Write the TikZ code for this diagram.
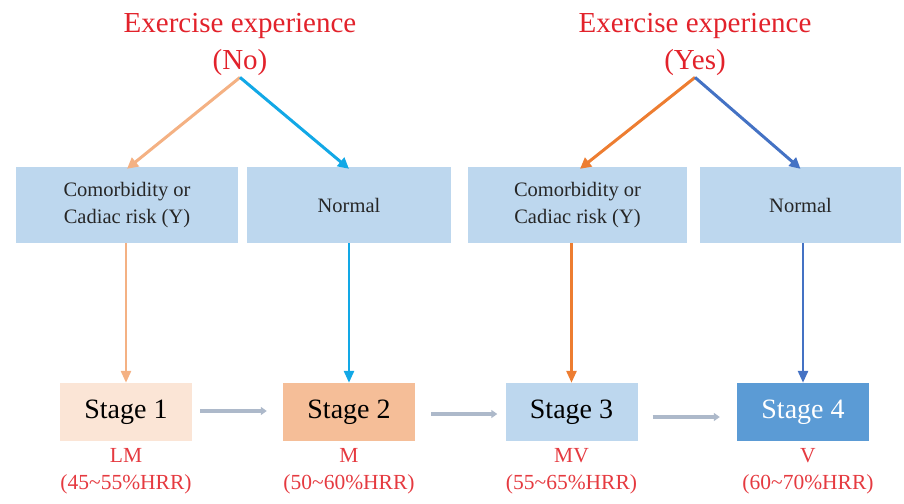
\documentclass[tikz,border=0pt]{standalone}
\usepackage{fontspec}
\setmainfont{Liberation Serif}
\usetikzlibrary{arrows.meta}

\definecolor{titlered}{HTML}{E2222B}
\definecolor{labelred}{HTML}{E53A40}
\definecolor{boxblue}{HTML}{BDD7EE}
\definecolor{peachlight}{HTML}{FBE5D6}
\definecolor{peach}{HTML}{F5BE98}
\definecolor{midblue}{HTML}{5B9BD5}
\definecolor{lightorange}{HTML}{F4B183}
\definecolor{cyanarrow}{HTML}{12A8E6}
\definecolor{orangearrow}{HTML}{ED7D31}
\definecolor{bluearrow}{HTML}{4472C4}
\definecolor{greyarrow}{HTML}{ADB9CA}

\tikzset{
  titletext/.style={text=titlered, align=center, inner sep=2pt,
    font=\fontsize{29}{37}\selectfont},
  riskbox/.style={fill=boxblue, minimum height=76pt, align=center, inner sep=0pt,
    text=black!85, font=\fontsize{20.5}{27}\selectfont},
  stagebox/.style={minimum width=132pt, minimum height=58pt, inner sep=0pt,
    font=\fontsize{28}{32}\selectfont},
  zonelabel/.style={text=labelred, align=center, inner sep=0pt,
    font=\fontsize{21.5}{27}\selectfont},
  branch/.style={line width=3pt, -{Triangle[length=11pt,width=11pt]}},
  drop/.style={line width=2.6pt, -{Triangle[length=12pt,width=10pt]}},
  advance/.style={line width=3.5pt, color=greyarrow, -{Triangle[length=6pt,width=8pt]}}
}

\begin{document}
\begin{tikzpicture}[x=1pt, y=-1pt]
\useasboundingbox (0,0) rectangle (904,503);

% headings
\node[titletext] (tno)  at (240,44) {Exercise experience\\(No)};
\node[titletext] (tyes) at (695,44) {Exercise experience\\(Yes)};

% condition boxes
\node[riskbox, minimum width=222pt] (b1) at (127,205) {Comorbidity or\\Cadiac risk (Y)};
\node[riskbox, minimum width=204pt] (b2) at (349,205) {Normal};
\node[riskbox, minimum width=219pt] (b3) at (577.5,205) {Comorbidity or\\Cadiac risk (Y)};
\node[riskbox, minimum width=201pt] (b4) at (800.5,205) {Normal};

% training stages
\node[stagebox, fill=peachlight] (s1) at (126,412) {Stage 1};
\node[stagebox, fill=peach]      (s2) at (349,412) {Stage 2};
\node[stagebox, fill=boxblue]    (s3) at (571.5,412) {Stage 3};
\node[stagebox, fill=midblue, text=white] (s4) at (803,412) {Stage 4};

% intensity zones
\node[zonelabel] (z1) at (126,471) {LM\\(45\textasciitilde55\%HRR)};
\node[zonelabel] (z2) at (349,471) {M\\(50\textasciitilde60\%HRR)};
\node[zonelabel] (z3) at (571.5,471) {MV\\(55\textasciitilde65\%HRR)};
\node[zonelabel] (z4) at (808,471) {V\\(60\textasciitilde70\%HRR)};

% branching from the headings
\draw[branch, lightorange] (tno.south) -- ([yshift=-2pt]b1.north);
\draw[branch, cyanarrow]   (tno.south) -- ([yshift=-2pt]b2.north);
\draw[branch, orangearrow] (tyes.south) -- ([xshift=2.5pt,yshift=-2pt]b3.north);
\draw[branch, bluearrow]   (tyes.south) -- ([yshift=-2pt]b4.north);

% from conditions to stages
\draw[drop, lightorange] (b1.south -| s1) -- (s1.north);
\draw[drop, cyanarrow]   (b2.south -| s2) -- (s2.north);
\draw[drop, orangearrow] (b3.south -| s3) -- (s3.north);
\draw[drop, bluearrow]   (b4.south -| s4) -- (s4.north);

% progression between stages
\draw[advance, shorten <=8pt, shorten >=16pt] ([yshift=1pt]s1.east) -- ([yshift=1pt]s2.west);
\draw[advance, shorten <=16pt, shorten >=8pt] ([yshift=-2pt]s2.east) -- ([yshift=-2pt]s3.west);
\draw[advance, shorten <=15pt, shorten >=17pt] ([yshift=-5pt]s3.east) -- ([yshift=-5pt]s4.west);
\end{tikzpicture}
\end{document}
